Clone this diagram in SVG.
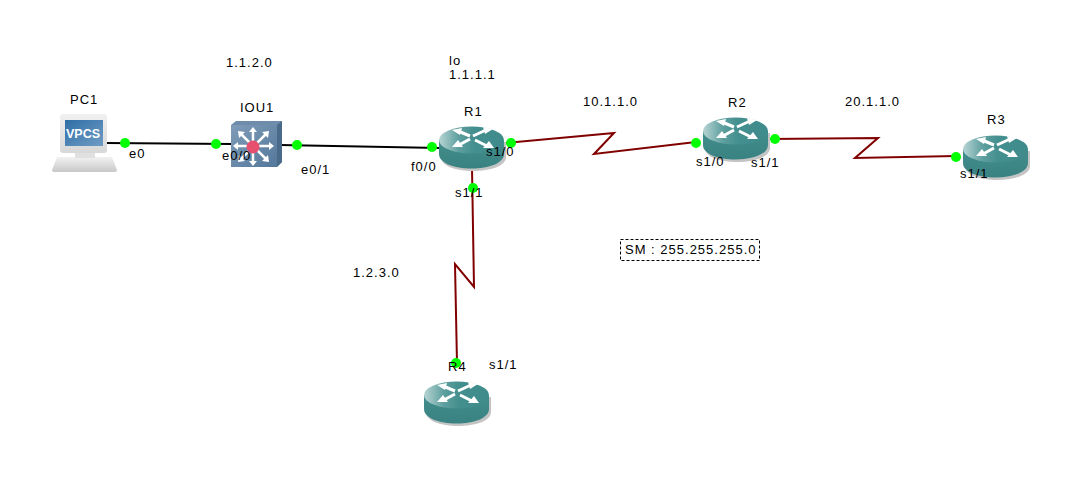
<svg xmlns="http://www.w3.org/2000/svg" width="1088" height="488" viewBox="0 0 1088 488">
<style>
text{font-family:"Liberation Sans",Arial,sans-serif;font-size:13px;fill:#000;letter-spacing:1px}
.e{fill:none;stroke:#000;stroke-width:2}
.s{fill:none;stroke:#800000;stroke-width:2}
.d{fill:#0f0}
.a{fill:#fff}
.w{stroke:#fff;stroke-width:2.500}
.r{stroke:#fff;stroke-width:3;fill:none}
</style>
<defs>
<linearGradient id="top" x1="0" y1="0" x2="1" y2="0"><stop offset="0" stop-color="#b8d4d4"/><stop offset=".3" stop-color="#5f9f9f"/><stop offset=".55" stop-color="#438e8e"/><stop offset="1" stop-color="#3f8b8b"/></linearGradient>
<linearGradient id="side" x1="0" y1="0" x2="0" y2="1"><stop offset="0" stop-color="#428d8d"/><stop offset="1" stop-color="#3a8282"/></linearGradient>
<linearGradient id="base" x1="0" y1="0" x2="0" y2="1"><stop offset="0" stop-color="#f2f2f2"/><stop offset="1" stop-color="#c8c8c8"/></linearGradient>
<linearGradient id="bez" x1="0" y1="0" x2="0" y2="1"><stop offset="0" stop-color="#f0f0f0"/><stop offset="1" stop-color="#d8d8d8"/></linearGradient>
<linearGradient id="scr" x1="0" y1="0" x2="1" y2="1"><stop offset="0" stop-color="#2f6ea6"/><stop offset="1" stop-color="#6f9cc4"/></linearGradient>
<linearGradient id="sw" x1="0" y1="0" x2="1" y2="1"><stop offset="0" stop-color="#7f9cb8"/><stop offset="1" stop-color="#54789b"/></linearGradient>
<g id="router">
<path d="M2 16V31C2 40 17 45 34 45S67 40 67 31V16Z" fill="#c4c4c4"/>
<path d="M0 14V28C0 37 15 42.500 32.500 42.500S65 37 65 28V14Z" fill="url(#side)"/>
<ellipse cx="32.500" cy="14" rx="32.500" ry="13.500" fill="url(#top)"/>
<path class="r" d="M19 5L31 10M47 4L34 10M20 19L31 13M48 20L36 14"/>
<path class="a" d="M13 4L23 2L21 9ZM54 3L44 1L46 8ZM13 21L19 14L24 21ZM55 22L50 15L44 22Z"/>
</g>
</defs>
<rect width="1088" height="488" fill="#fff"/>
<g id="connectors">
<line class="e" x1="106" y1="143" x2="232" y2="144"/>
<line class="e" x1="280" y1="145" x2="440" y2="148"/>
<polyline class="s" points="505,143 614,133 594,154 696,142"/>
<polyline class="s" points="768,139 878,138 855,158 956,156"/>
<polyline class="s" points="472,168 474,287 455,264 457,363"/>
</g>
<g id="PC1">
<path d="M57 157H112L117 170Q117 172 114 172H55Q52 172 52 170Z" fill="url(#base)"/>
<rect x="75" y="152" width="20" height="6" fill="#e0e0e0"/>
<rect x="60" y="114" width="47" height="39" rx="3" fill="url(#bez)"/>
<rect x="65" y="120" width="38" height="26" fill="url(#scr)"/>
<text x="66" y="138" style="font-size:12.500px;font-weight:bold;fill:#fff;letter-spacing:0">VPCS</text>
<text x="70" y="104">PC1</text>
</g>
<g id="IOU1">
<path d="M231 125L236 121H282V162L277 167H231Z" fill="#6f8caa"/>
<path d="M277 125L282 121V162L277 167Z" fill="#4a6a8a"/>
<rect x="231" y="125" width="46" height="42" fill="url(#sw)"/>
<g class="w"><line x1="237" y1="146" x2="270" y2="146"/><line x1="253" y1="131" x2="253" y2="163"/><line x1="241" y1="134" x2="266" y2="159"/><line x1="266" y1="134" x2="241" y2="159"/></g>
<path class="a" d="M233 146L238 142V150ZM274 146L269 142V150ZM253 127L249 132H257ZM253 166L249 161H257ZM238 131L245 132L239 138ZM269 131L262 132L268 138ZM238 162L245 161L239 155ZM269 162L262 161L268 155Z"/>
<circle cx="253" cy="147" r="6.500" fill="#e6506e"/>
<text x="240" y="112">IOU1</text>
</g>
<g id="R1"><use href="#router" x="439" y="126"/><text x="464" y="116">R1</text></g>
<g id="R2"><use href="#router" x="703" y="117"/><text x="728" y="107">R2</text></g>
<g id="R3"><use href="#router" x="963" y="135"/><text x="987" y="124">R3</text></g>
<g id="R4"><use href="#router" x="424" y="381"/></g>
<g id="dots">
<circle class="d" cx="125" cy="143" r="5"/><circle class="d" cx="216" cy="144" r="5"/><circle class="d" cx="297" cy="145" r="5"/><circle class="d" cx="432" cy="147" r="5"/><circle class="d" cx="511" cy="143" r="5"/><circle class="d" cx="473" cy="188" r="5"/><circle class="d" cx="696" cy="143" r="5"/><circle class="d" cx="775" cy="139" r="5"/><circle class="d" cx="956" cy="157" r="5"/><circle class="d" cx="456" cy="363" r="5"/>
</g>
<g id="labels">
<text x="448" y="371">R4</text>
<text x="129" y="158">e0</text>
<text x="222" y="160">e0/0</text>
<text x="301" y="174">e0/1</text>
<text x="411" y="171">f0/0</text>
<text x="486" y="156">s1/0</text>
<text x="455" y="197">s1/1</text>
<text x="696" y="166">s1/0</text>
<text x="751" y="167">s1/1</text>
<text x="960" y="178">s1/1</text>
<text x="489" y="369">s1/1</text>
<text x="226" y="67">1.1.2.0</text>
<text x="449" y="65">lo</text>
<text x="449" y="79">1.1.1.1</text>
<text x="583" y="106">10.1.1.0</text>
<text x="845" y="106">20.1.1.0</text>
<text x="353" y="277">1.2.3.0</text>
</g>
<g id="note">
<rect x="620.500" y="239.500" width="139" height="21" fill="#fff" stroke="#000" stroke-dasharray="3 2"/>
<text x="625" y="254">SM : 255.255.255.0</text>
</g>
</svg>
